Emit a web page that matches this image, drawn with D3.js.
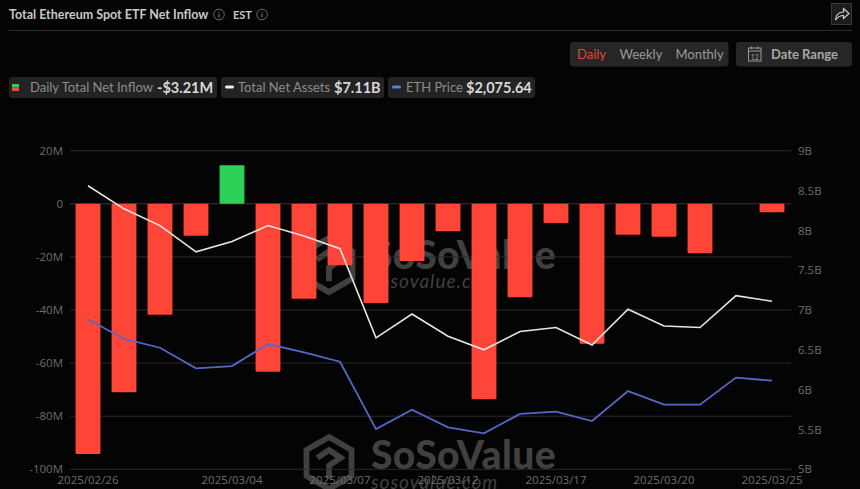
<!DOCTYPE html>
<html>
<head>
<meta charset="utf-8">
<script src="https://cdn.jsdelivr.net/npm/d3@7"></script>
<style>
    html, body { margin: 0; padding: 0; background: #040404; overflow: hidden; }
    svg { display: block; }
    text { font-family: Lato, "Open Sans", sans-serif; }
    .tick text { font-family: "Open Sans", sans-serif; font-size: 11.5px; fill: #6c6c6c; }
</style>
</head>
<body>
<div id="chart"></div>
<script>
// Values
const dates = ['2025/02/26', '2025/02/27', '2025/02/28', '2025/03/03', '2025/03/04',
    '2025/03/05', '2025/03/06', '2025/03/07', '2025/03/10', '2025/03/11',
    '2025/03/12', '2025/03/13', '2025/03/14', '2025/03/17', '2025/03/18',
    '2025/03/19', '2025/03/20', '2025/03/21', '2025/03/24', '2025/03/25'];
const netInflow = [-94.2, -71, -41.8, -12, 14.5, -63.3, -35.8, -23.1, -37.4, -21.5,
    -10.3, -73.6, -35.2, -7.2, -52.7, -11.7, -12.4, -18.6, 0, -3.21];
const netAssets = [8.56, 8.27, 8.06, 7.73, 7.86, 8.06, 7.93, 7.77, 6.65, 6.95,
    6.67, 6.50, 6.73, 6.78, 6.56, 7.01, 6.80, 6.78, 7.18, 7.11];
const ethPrice = [2326, 2246, 2210, 2126, 2135, 2225, 2191, 2153, 1878, 1957,
    1885, 1861, 1940, 1949, 1911, 2033, 1978, 1978, 2088, 2075.64];
const xLabels = ['2025/02/26', '2025/03/04', '2025/03/07', '2025/03/12', '2025/03/17', '2025/03/20', '2025/03/25'];
const leftTicks = [20, 0, -20, -40, -60, -80, -100];
const rightTicks = [5, 5.5, 6, 6.5, 7, 7.5, 8, 8.5, 9];

const width = 860;
const height = 489;

const svg = d3.select('#chart').append('svg')
    .attr('width', width)
    .attr('height', height);

// Scales
const x = d3.scaleBand().domain(dates).range([70, 790]).paddingInner(0.31).paddingOuter(0.155);
const yLeft = d3.scaleLinear().domain([-100, 20]).range([469.3, 150.7]);
const yRight = d3.scaleLinear().domain([5, 9]).range([469.3, 150.7]);
const yPrice = d3.scaleLinear().domain([1714, 3014]).range([469.3, 150.7]);

// Watermarks sit under the bars
function drawLogo(cx, cy, r) {
    const hex = d3.range(6).map(i => {
        const a = Math.PI / 3 * i - Math.PI / 2;
        return [cx + r * Math.cos(a), cy + r * Math.sin(a)];
    });
    const g = svg.append('g').attr('fill', 'none').attr('stroke', '#404040').attr('stroke-width', r * 0.22);
    g.append('path').attr('d', d3.line()(hex) + 'Z');
    g.append('path').attr('d', `M${cx - r * 0.45},${cy - r * 0.2}L${cx},${cy - r * 0.5}L${cx + r * 0.45},${cy - r * 0.2}L${cx},${cy + r * 0.1}L${cx},${cy + r * 0.6}`);
}
function drawWatermark(logoY, r, textY, subY) {
    drawLogo(329, logoY, r);
    svg.append('text').attr('x', 371).attr('y', textY)
        .attr('font-size', 39).attr('font-weight', 900).attr('fill', '#404040')
        .style('letter-spacing', '0.4px').text('SoSoValue');
    svg.append('text').attr('x', 371).attr('y', subY)
        .attr('font-size', 19).attr('font-style', 'italic').attr('fill', '#404040')
        .style('letter-spacing', '1px').text('sosovalue.com');
}
drawWatermark(265, 27, 269, 288);
drawWatermark(463, 26, 469, 488.5);

// Grid
svg.append('g').selectAll('line')
    .data(leftTicks)
    .enter()
    .append('line')
    .attr('x1', 70).attr('x2', 791)
    .attr('y1', d => yLeft(d)).attr('y2', d => yLeft(d))
    .attr('stroke', d => d === 0 ? '#3a3a3a' : '#2b2b2b')
    .attr('stroke-width', 1);

// Axes
const fmtLeft = d => d === 0 ? '0' : `${d}M`;
const fmtRight = d => `${d}B`;

const axisLeft = svg.append('g')
    .attr('transform', 'translate(70,0)')
    .call(d3.axisLeft(yLeft).tickValues(leftTicks).tickFormat(fmtLeft).tickSize(0).tickPadding(7));
axisLeft.select('.domain').remove();

const axisRight = svg.append('g')
    .attr('transform', 'translate(791,0)')
    .call(d3.axisRight(yRight).tickValues(rightTicks).tickFormat(fmtRight).tickSize(0).tickPadding(7));
axisRight.select('.domain').remove();

const axisBottom = svg.append('g')
    .attr('transform', 'translate(0,469.3)')
    .call(d3.axisBottom(x).tickValues(xLabels).tickSize(0).tickPadding(6.5));
axisBottom.select('.domain').remove();

// Bars
svg.append('g').selectAll('rect')
    .data(dates.map((d, i) => ({ date: d, value: netInflow[i] })).filter(d => d.value !== 0))
    .enter()
    .append('rect')
    .attr('x', d => x(d.date))
    .attr('width', x.bandwidth())
    .attr('y', d => yLeft(Math.max(d.value, 0)))
    .attr('height', d => Math.abs(yLeft(d.value) - yLeft(0)))
    .attr('rx', 1)
    .attr('fill', d => d.value >= 0 ? '#2ed158' : '#ff4538');

// Lines
const lineOf = (values, scale) => d3.line()
    .x((d, i) => x(dates[i]) + x.bandwidth() / 2)
    .y(d => scale(d))(values);

svg.append('path')
    .attr('d', lineOf(netAssets, yRight))
    .attr('fill', 'none')
    .attr('stroke', '#e6e6e0')
    .attr('stroke-width', 1.6);

svg.append('path')
    .attr('d', lineOf(ethPrice, yPrice))
    .attr('fill', 'none')
    .attr('stroke', '#5468c8')
    .attr('stroke-width', 1.8);

// Header
svg.append('text').attr('x', 9).attr('y', 18.5)
    .attr('font-size', 12.5).attr('font-weight', 700).attr('fill', '#c8c8c8')
    .text('Total Ethereum Spot ETF Net Inflow');
svg.append('text').attr('x', 233).attr('y', 18.5)
    .attr('font-size', 11).attr('font-weight', 700).attr('fill', '#c8c8c8')
    .text('EST');

function infoIcon(cx, cy) {
    const g = svg.append('g');
    g.append('circle').attr('cx', cx).attr('cy', cy).attr('r', 5.3)
        .attr('fill', 'none').attr('stroke', '#777').attr('stroke-width', 0.9);
    g.append('line').attr('x1', cx).attr('x2', cx).attr('y1', cy - 0.8).attr('y2', cy + 3)
        .attr('stroke', '#888').attr('stroke-width', 1);
    g.append('circle').attr('cx', cx).attr('cy', cy - 2.5).attr('r', 0.6).attr('fill', '#888');
}
infoIcon(219, 14.5);
infoIcon(262, 14.5);

svg.append('line').attr('x1', 9).attr('x2', 852).attr('y1', 30.5).attr('y2', 30.5)
    .attr('stroke', '#2e2e2e').attr('stroke-width', 1);

// Share button
svg.append('rect').attr('x', 831.5).attr('y', 3.5).attr('width', 20).attr('height', 21)
    .attr('fill', '#1c1c1c').attr('stroke', '#3a3a3a');
svg.append('path')
    .attr('d', 'M835.5,20 C836,14.5 839,12 843.5,12 L843.5,8.5 L849,13.5 L843.5,18.5 L843.5,15.5 C840,15.5 837.5,17 835.5,20 Z')
    .attr('fill', 'none').attr('stroke', '#d0d0d0').attr('stroke-width', 1.2);

// Period buttons
svg.append('rect').attr('x', 570).attr('y', 42).attr('width', 158.5).attr('height', 24.5).attr('rx', 3).attr('fill', '#262626');
const periodLabels = ['Daily', 'Weekly', 'Monthly'];
const periodX = [577, 619.5, 675.5];
svg.append('g').selectAll('text')
    .data(periodLabels)
    .enter()
    .append('text')
    .attr('x', (d, i) => periodX[i])
    .attr('y', 59)
    .attr('font-size', 13)
    .attr('fill', (d, i) => i === 0 ? '#e2482f' : '#9a9a9a')
    .text(d => d);

svg.append('rect').attr('x', 736).attr('y', 42).attr('width', 116).attr('height', 24.5).attr('rx', 3).attr('fill', '#262626');
const cal = svg.append('g').attr('fill', 'none').attr('stroke', '#9a9a9a').attr('stroke-width', 1);
cal.append('rect').attr('x', 748.5).attr('y', 48).attr('width', 12.5).attr('height', 13);
cal.append('line').attr('x1', 748.5).attr('x2', 761).attr('y1', 51).attr('y2', 51);
cal.append('line').attr('x1', 751.5).attr('x2', 751.5).attr('y1', 46.5).attr('y2', 49);
cal.append('line').attr('x1', 758).attr('x2', 758).attr('y1', 46.5).attr('y2', 49);
svg.append('text').attr('x', 754.8).attr('y', 59.5).attr('text-anchor', 'middle')
    .attr('font-size', 7).attr('fill', '#9a9a9a').text('12');
svg.append('text').attr('x', 771).attr('y', 59)
    .attr('font-size', 13).attr('font-weight', 700).attr('fill', '#a6a6a6')
    .text('Date Range');

// Legend pills
const pillX = [9, 221, 388];
const pillW = [208, 163, 147];
svg.append('g').selectAll('rect')
    .data(pillX)
    .enter()
    .append('rect')
    .attr('x', d => d)
    .attr('y', 77)
    .attr('width', (d, i) => pillW[i])
    .attr('height', 21)
    .attr('rx', 3)
    .attr('fill', '#232323');

svg.append('rect').attr('x', 12).attr('y', 84).attr('width', 7).attr('height', 3.5).attr('fill', '#2ed158');
svg.append('rect').attr('x', 12).attr('y', 87.5).attr('width', 7).attr('height', 3.5).attr('fill', '#ff4538');
svg.append('rect').attr('x', 225).attr('y', 85.5).attr('width', 9).attr('height', 3).attr('rx', 1.5).attr('fill', '#f0f0f0');
svg.append('rect').attr('x', 392).attr('y', 85.5).attr('width', 9).attr('height', 3).attr('rx', 1.5).attr('fill', '#6079e0');

const legendLabels = ['Daily Total Net Inflow', 'Total Net Assets', 'ETH Price'];
const legendLabelX = [30, 238, 406];
const legendValues = ['-$3.21M', '$7.11B', '$2,075.64'];
const legendValueX = [157, 334, 466];
svg.append('g').selectAll('text')
    .data(legendLabels)
    .enter()
    .append('text')
    .attr('x', (d, i) => legendLabelX[i])
    .attr('y', 92)
    .attr('font-size', 13)
    .attr('fill', '#8c8c8c')
    .text(d => d);
svg.append('g').selectAll('text')
    .data(legendValues)
    .enter()
    .append('text')
    .attr('x', (d, i) => legendValueX[i])
    .attr('y', 92.5)
    .attr('font-size', 14.5)
    .attr('font-weight', 700)
    .attr('fill', '#d8d8d8')
    .text(d => d);
</script>
</body>
</html>
